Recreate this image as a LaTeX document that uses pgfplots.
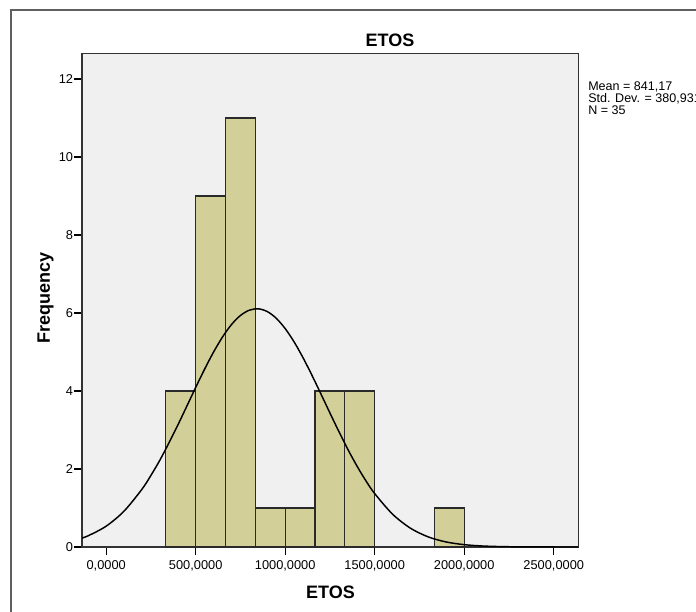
\documentclass[border=0pt]{standalone}
\usepackage{pgfplots}
\pgfplotsset{compat=1.18}
\usepackage{fontspec}
\setmainfont{Liberation Sans}
\definecolor{barfill}{HTML}{D3CF98}
\definecolor{plotbg}{HTML}{F0F0F0}
\definecolor{framegray}{HTML}{5F5F5F}
\definecolor{baredge}{HTML}{2A2A2A}

\begin{document}
\begin{tikzpicture}[x=0.75pt,y=0.75pt]
\useasboundingbox (0,0) rectangle (696,611);
\draw[framegray, line width=1.5pt] (11,-5) -- (11,601) -- (705,601);
\begin{axis}[
  at={(61.5pt,48pt)}, anchor=south west,
  scale only axis, width=372.2pt, height=370.3pt,
  xmin=-135, xmax=2637, ymin=0, ymax=12.66,
  axis background/.style={fill=plotbg},
  axis line style={black!80, line width=0.8pt},
  xtick={0,500,1000,1500,2000,2500},
  xticklabels={{0,0000},{500,0000},{1000,0000},{1500,0000},{2000,0000},{2500,0000}},
  ytick={0,2,4,6,8,10,12},
  tick align=outside, xtick pos=bottom, ytick pos=left,
  major tick length=6pt,
  tick style={black, line width=0.8pt},
  tick label style={font=\fontsize{9.6}{10}\selectfont},
  /pgf/number format/assume math mode=true,
  yticklabel style={inner sep=0.5pt},
  xticklabel style={inner sep=0pt, yshift=-4pt},
]
\addplot[ybar interval, fill=barfill, draw=baredge, line width=0.9pt] coordinates {
  (333.333,4) (500,9) (666.667,11) (833.333,1) (1000,1) (1166.667,4) (1333.333,4) (1500,4)
};
\addplot[ybar interval, fill=barfill, draw=baredge, line width=0.9pt] coordinates {
  (1833.333,1) (2000,1)
};
\addplot[smooth, black, line width=1.1pt, mark=none] coordinates {
  (-150,0.207) (-100,0.289) (0,0.534) (100,0.920) (200,1.482) (250,1.836) (300,2.227)
  (350,2.665) (400,3.124) (450,3.606) (500,4.091) (550,4.562) (600,5.000) (650,5.386)
  (700,5.704) (750,5.937) (800,6.073) (850,6.107) (900,6.037) (950,5.865) (1000,5.600)
  (1050,5.257) (1100,4.850) (1150,4.398) (1200,3.920) (1250,3.435) (1300,2.958)
  (1350,2.503) (1400,2.083) (1450,1.703) (1500,1.369) (1600,0.840) (1700,0.481)
  (1800,0.257) (1900,0.128) (2000,0.060) (2100,0.026) (2200,0.011) (2300,0.004)
  (2400,0.0014) (2500,0.0005) (2650,0.0001)
};
\end{axis}
\node[font=\fontsize{13.5}{14}\selectfont\bfseries] at (390,571) {ETOS};
\node[font=\fontsize{13.5}{14}\selectfont\bfseries] at (330.5,19) {ETOS};
\node[font=\fontsize{13.5}{14}\selectfont\bfseries, rotate=90] at (45.5,313) {Frequency};
\node[font=\fontsize{9.4}{9}\selectfont, anchor=north west, align=left, inner sep=0pt] at (588,530)
  {Mean = 841,17\\Std. Dev. = 380,931\\N = 35};
\end{tikzpicture}
\end{document}
